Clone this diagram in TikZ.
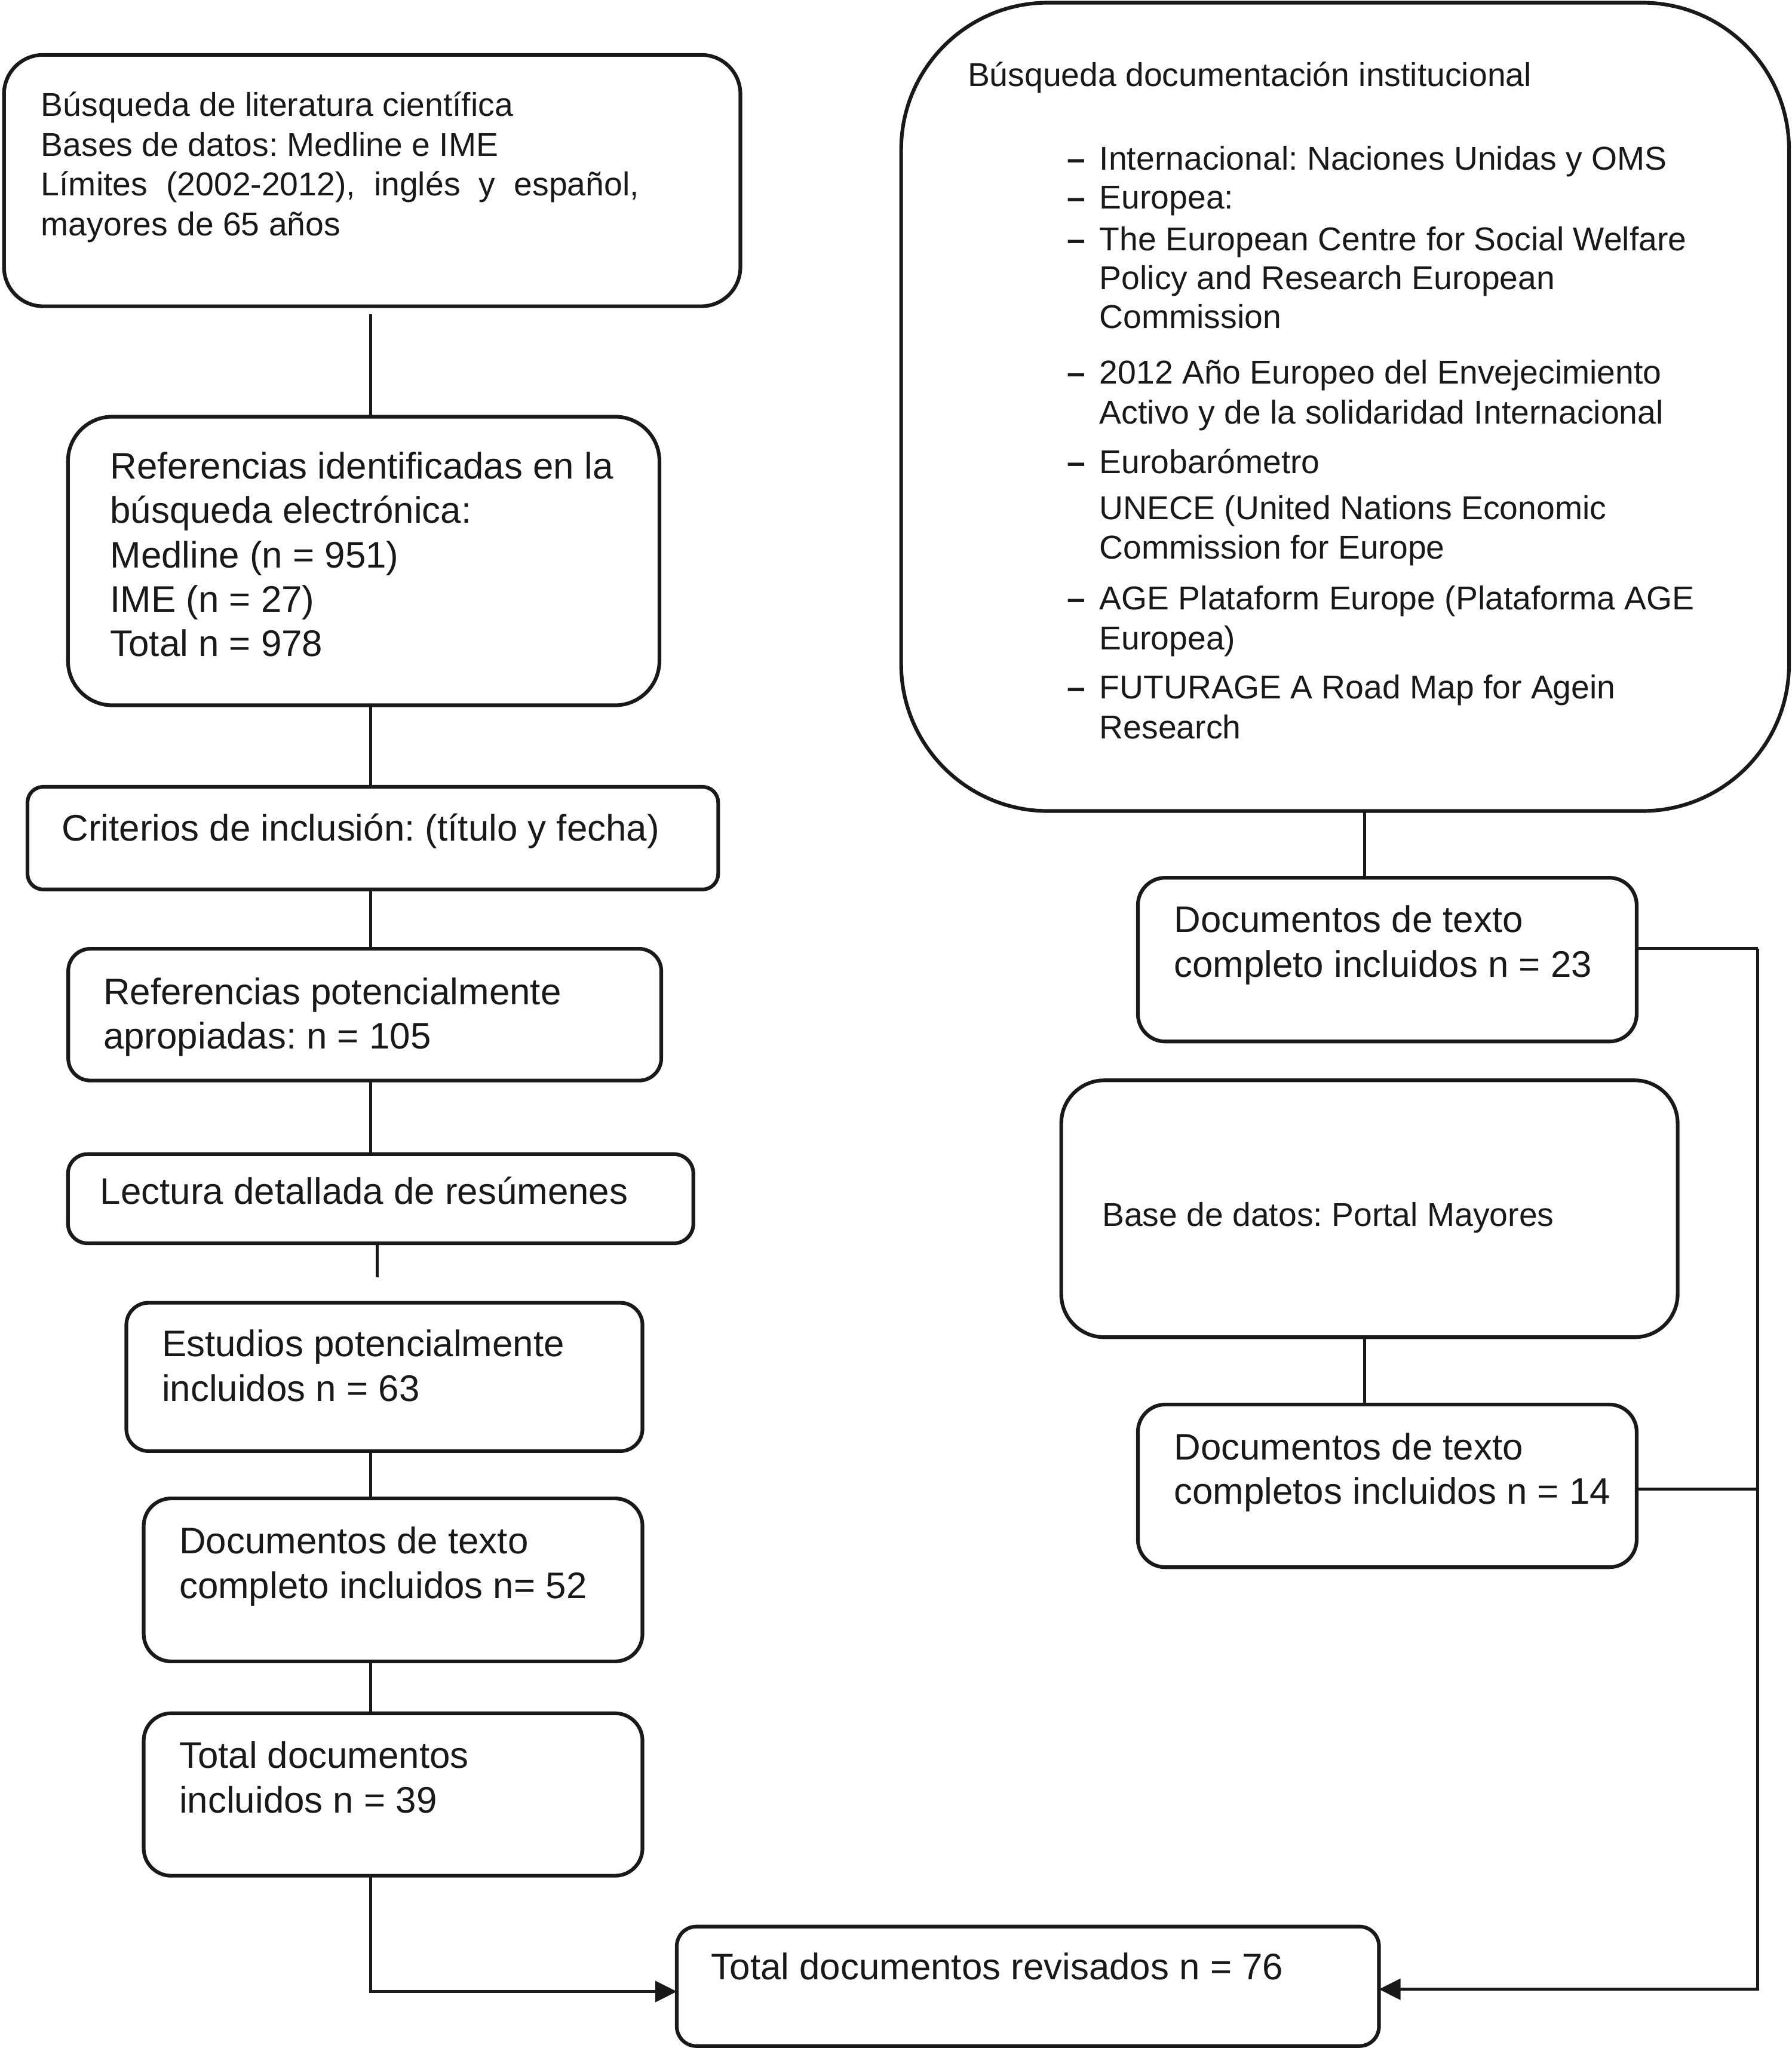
\documentclass[tikz,border=0pt]{standalone}
\usepackage{fontspec}
\setmainfont{Liberation Sans}
\usetikzlibrary{arrows.meta}
\frenchspacing
\newcommand\smallf{\fontsize{14.4pt}{17.36pt}\selectfont}
\newcommand\bigf{\fontsize{16.1pt}{19.35pt}\selectfont}
\newcommand\lines[2]{\parbox[t]{#1}{#2}}
\tikzset{
  box/.style={draw=black!90, line width=1.6pt, fill=white, inner sep=0pt, outer sep=0pt},
  txt/.style={anchor=base west, inner sep=0pt, outer sep=0pt, text=black!90},
  dsh/.style={anchor=base west, inner sep=0pt, outer sep=0pt, text=black!90, font=\smallf\bfseries},
  conn/.style={draw=black!90, line width=1.25pt},
  arr/.style={conn, -{Triangle[length=0.33cm,width=0.32cm]}}
}
\begin{document}
\begin{tikzpicture}[x=0.02cm, y=-0.02cm]
\useasboundingbox[fill=white] (0,0) rectangle (1372,1568);

% ---- left column boxes
\node[box, minimum width=11.28cm, minimum height=3.85cm, rounded corners=0.6cm] (A) at (285,138.25) {};
\node[box, minimum width=9.06cm, minimum height=4.42cm, rounded corners=0.68cm] (B) at (278.5,429.5) {};
\node[box, minimum width=10.58cm, minimum height=1.572cm, rounded corners=0.24cm] (C) at (285.5,641.7) {};
\node[box, minimum width=9.084cm, minimum height=2.018cm, rounded corners=0.34cm] (D) at (279.3,776.85) {};
\node[box, minimum width=9.58cm, minimum height=1.366cm, rounded corners=0.3cm] (E) at (291.5,917.75) {};
\node[box, minimum width=7.906cm, minimum height=2.272cm, rounded corners=0.34cm] (F) at (294.35,1054.2) {};
\node[box, minimum width=7.64cm, minimum height=2.496cm, rounded corners=0.42cm] (G) at (301,1209.6) {};
\node[box, minimum width=7.64cm, minimum height=2.488cm, rounded corners=0.42cm] (H) at (301,1373.9) {};
\node[box, minimum width=10.756cm, minimum height=1.83cm, rounded corners=0.3cm] (T) at (787.1,1520.75) {};

% ---- right column boxes
\node[box, minimum width=13.6cm, minimum height=12.38cm, rounded corners=2.25cm] (R1) at (1030,311.5) {};
\node[box, minimum width=7.64cm, minimum height=2.508cm, rounded corners=0.42cm] (R2) at (1062.3,734.7) {};
\node[box, minimum width=9.442cm, minimum height=3.934cm, rounded corners=0.66cm] (R3) at (1048.65,925.45) {};
\node[box, minimum width=7.64cm, minimum height=2.492cm, rounded corners=0.42cm] (R4) at (1062.3,1137.6) {};

% ---- texts
\node[txt] (tA) at (31.5,89) {\lines{11cm}{\smallf\raggedright Búsqueda de literatura científica\\Bases de datos: Medline e IME\\\makebox[9.16cm][s]{Límites (2002-2012), inglés y español,}\\mayores de 65 años}};
\node[txt] (tB) at (84.4,366.6) {\lines{9cm}{\bigf\raggedright Referencias identificadas en la\\búsqueda electrónica:\\Medline (n = 951)\\IME (n = 27)\\Total n = 978}};
\node[txt] (tC) at (47.4,644) {\bigf Criterios de inclusión: (título y fecha)};
\node[txt] (tD) at (79.2,769) {\lines{9cm}{\bigf\raggedright Referencias potencialmente\\apropiadas: n = 105}};
\node[txt] (tE) at (76.8,922) {\bigf Lectura detallada de resúmenes};
\node[txt] (tF) at (124,1038.7) {\lines{8cm}{\bigf\raggedright Estudios potencialmente\\incluidos n = 63}};
\node[txt] (tG) at (137.3,1189.6) {\lines{8cm}{\bigf\raggedright Documentos de texto\\completo incluidos n= 52}};
\node[txt] (tH) at (137.3,1353.8) {\lines{8cm}{\bigf\raggedright Total documentos\\incluidos n = 39}};
\node[txt] (tT) at (544.7,1515.7) {\bigf Total documentos revisados n = 76};

\node[txt] (tR1) at (741,66) {\smallf Búsqueda documentación institucional};
\node[dsh] (d1) at (817,130) {–};
\node[txt] (i1) at (842,130) {\smallf Internacional: Naciones Unidas y OMS};
\node[dsh] (d2) at (817,160) {–};
\node[txt] (i2) at (842,160) {\smallf Europea:};
\node[dsh] (d3) at (817,192) {–};
\node[txt] (i3) at (842,192) {\lines{12cm}{\fontsize{14.4pt}{29.7\dimexpr 0.5690pt\relax}\selectfont\raggedright The European Centre for Social Welfare\\Policy and Research European\\Commission}};
\node[dsh] (d4) at (817,294) {–};
\node[txt] (i4) at (842,294) {\lines{12cm}{\smallf\raggedright 2012 Año Europeo del Envejecimiento\\Activo y de la solidaridad Internacional}};
\node[dsh] (d5) at (817,362.7) {–};
\node[txt] (i5) at (842,362.7) {\smallf Eurobarómetro};
\node[txt] (i6) at (842,397.5) {\lines{12cm}{\smallf\raggedright UNECE (United Nations Economic\\Commission for Europe}};
\node[dsh] (d7) at (817,467) {–};
\node[txt] (i7) at (842,467) {\lines{12cm}{\smallf\raggedright AGE Plataform Europe (Plataforma AGE\\Europea)}};
\node[dsh] (d8) at (817,535) {–};
\node[txt] (i8) at (842,535) {\lines{12cm}{\smallf\raggedright FUTURAGE A Road Map for Agein\\Research}};

\node[txt] (tR2) at (899,714) {\lines{8cm}{\bigf\raggedright Documentos de texto\\completo incluidos n = 23}};
\node[txt] (tR3) at (844,939) {\smallf Base de datos: Portal Mayores};
\node[txt] (tR4) at (899,1117.6) {\lines{8cm}{\bigf\raggedright Documentos de texto\\completos incluidos n = 14}};

% ---- connectors
\coordinate (lx) at (284,0);
\coordinate (cx) at (1045,0);
\coordinate (rx) at (1346,0);
\coordinate (eend) at (289,978);
\draw[conn, shorten <=0.12cm] (A.south -| lx) -- (B.north -| lx);
\draw[conn] (B.south -| lx) -- (C.north -| lx);
\draw[conn] (C.south -| lx) -- (D.north -| lx);
\draw[conn] (D.south -| lx) -- (E.north -| lx);
\draw[conn] (E.south -| eend) -- (eend);
\draw[conn] (F.south -| lx) -- (G.north -| lx);
\draw[conn] (G.south -| lx) -- (H.north -| lx);
\draw[arr] (H.south -| lx) |- ([yshift=-0.08cm]T.west);

\draw[conn] (R1.south -| cx) -- (R2.north -| cx);
\draw[conn] (R3.south -| cx) -- (R4.north -| cx);
\coordinate (r2e) at ([yshift=0.168cm]R2.east);
\coordinate (r4e) at ([yshift=-0.048cm]R4.east);
\draw[conn] (r2e) -- (r2e -| rx);
\draw[conn] (r4e) -- (r4e -| rx);
\draw[arr] (r2e -| rx) |- ([yshift=-0.045cm]T.east);
\end{tikzpicture}
\end{document}
